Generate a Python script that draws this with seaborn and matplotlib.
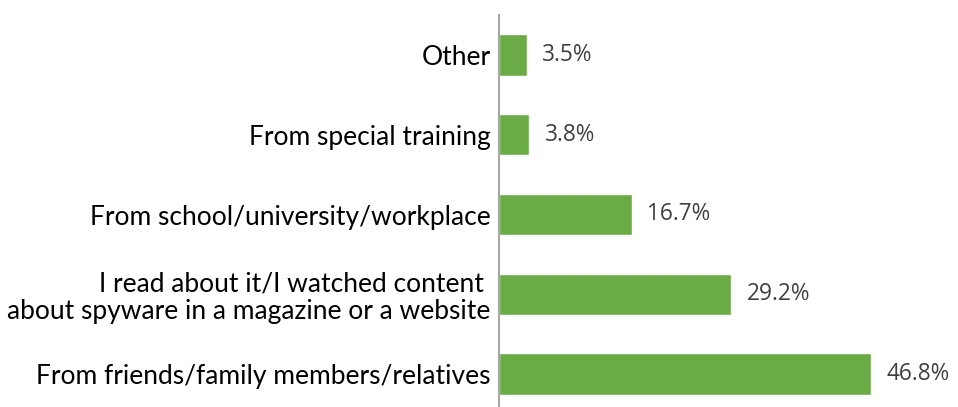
import matplotlib
matplotlib.use('Agg')
import matplotlib.pyplot as plt
import seaborn as sns
import pandas as pd

categories = ['Other',
              'From special training',
              'From school/university/workplace',
              'I read about it/I watched content \nabout spyware in a magazine or a website',
              'From friends/family members/relatives']
shares = [3.5, 3.8, 16.7, 29.2, 46.8]

df = pd.DataFrame({'category': categories, 'share': shares})

sns.set_theme(style='white')
plt.rcParams['font.family'] = ['Lato', 'DejaVu Sans']

fig = plt.figure(figsize=(9.58, 4.07), dpi=100)
ax = fig.add_axes([499 / 958, -7 / 407, 459 / 958, 399 / 407])

sns.barplot(data=df, y='category', x='share', orient='h', color='#6aab45',
            width=0.52, saturation=1, ax=ax)

for c in ax.containers:
    ax.bar_label(c, labels=[f'{v:.1f}%' for v in shares], padding=11,
                 fontsize=16.3, color='#404040', family=['Open Sans', 'DejaVu Sans'])

ax.set_xlim(0, 57.7)
ax.set_ylim(4.5, -0.5)
ax.set_xlabel('')
ax.set_ylabel('')
ax.set_xticks([])
ax.tick_params(axis='y', length=0, pad=6, labelsize=19, labelcolor='black')
for lbl in ax.get_yticklabels():
    lbl.set_linespacing(1.1)
for s in ['top', 'right', 'bottom']:
    ax.spines[s].set_visible(False)
ax.spines['left'].set_color('#a6a6a6')
ax.spines['left'].set_linewidth(1.5)

fig.savefig('out.png', dpi=100)
